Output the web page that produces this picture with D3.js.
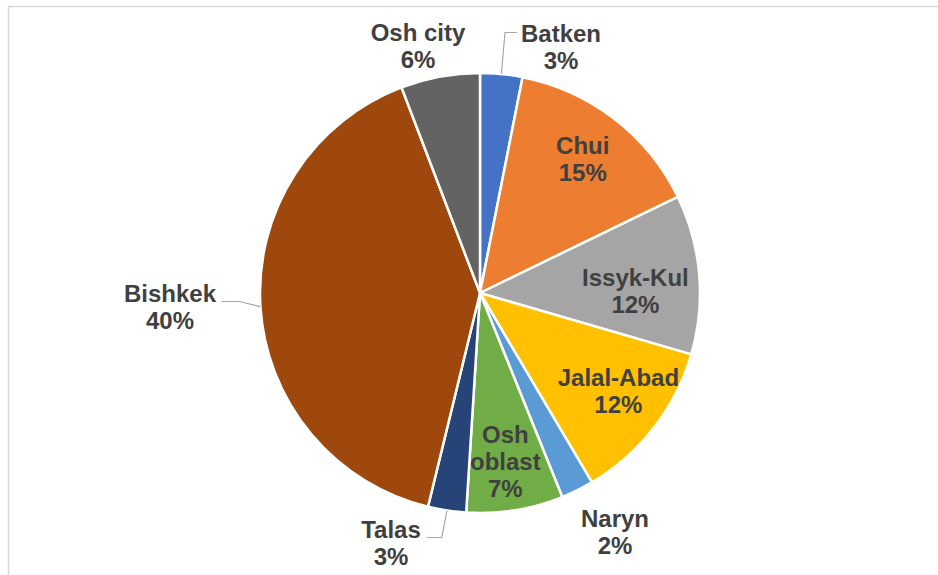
<!DOCTYPE html>
<html>
<head>
<meta charset="utf-8">
<script src="https://cdn.jsdelivr.net/npm/d3@7"></script>
<style>
  body { margin: 0; background: #fff; }
  text { font-family: "Liberation Sans", Arial, sans-serif; font-weight: bold; fill: #404040; }
</style>
</head>
<body>
<div id="mypie"></div>
<script>
// regions and their share of the total (percent)
var regions = ["Batken", "Chui", "Issyk-Kul", "Jalal-Abad", "Naryn", "Osh oblast", "Talas", "Bishkek", "Osh city"];
var shares = [3.1, 14.7, 11.7, 12.0, 2.4, 7.1, 2.8, 40.4, 5.8];
var colours = ["#4472C4", "#ED7D31", "#A5A5A5", "#FFC000", "#5B9BD5", "#70AD47", "#264478", "#9E480E", "#636363"];

// labels that sit outside the pie (offset from pie centre), others go inside
var outside = {
  "Batken":   {dx: 81,  dy: -246, leader: "left"},
  "Osh city": {dx: -62, dy: -247},
  "Naryn":    {dx: 135, dy: 239},
  "Talas":    {dx: -89, dy: 250, leader: "right"},
  "Bishkek":  {dx: -310, dy: 14, leader: "right"}
};
// small hand nudges for inside labels, like dragged excel labels
var nudge = {
  "Chui": [2, -3],
  "Issyk-Kul": [-9, 12],
  "Jalal-Abad": [8, -3],
  "Osh oblast": [-1, 6]
};
var splitLabel = {"Osh oblast": ["Osh", "oblast"]};

var W = 938, H = 575;
var cx = 480, cy = 293, R = 220;
var lineH = 27;

var svg = d3.select("#mypie")
  .append("svg")
  .attr("width", W)
  .attr("height", H);

svg.append("rect")
  .attr("x", 8.5).attr("y", 6.5)
  .attr("width", W + 20).attr("height", H + 20)
  .attr("fill", "none")
  .attr("stroke", "#d9d9d9")
  .attr("stroke-width", 1.5);

var data = regions.map((r, i) => ({name: r, value: shares[i], colour: colours[i]}));

var pie = d3.pie().sort(null).value(d => d.value);
var arcs = pie(data);
var arc = d3.arc().innerRadius(0).outerRadius(R);
var labelArc = d3.arc().innerRadius(R * 0.75).outerRadius(R * 0.75);

var g = svg.append("g").attr("transform", "translate(" + cx + "," + cy + ")");

g.selectAll("path.slice")
  .data(arcs)
  .enter()
  .append("path")
  .attr("class", "slice")
  .attr("d", arc)
  .attr("fill", d => d.data.colour)
  .attr("stroke", "#fff")
  .attr("stroke-width", 2.5)
  .attr("stroke-linejoin", "round");

arcs.forEach(function(d) {
  var lines = (splitLabel[d.data.name] || [d.data.name]).concat([Math.round(d.data.value) + "%"]);
  var o = outside[d.data.name];
  var p;
  if (o) {
    p = [o.dx, o.dy];
  } else {
    p = labelArc.centroid(d);
    var n = nudge[d.data.name] || [0, 0];
    p = [p[0] + n[0], p[1] + n[1]];
  }
  var firstBase = p[1] - (lines.length - 1) * lineH / 2 + 8;
  var t = g.append("text")
    .attr("text-anchor", "middle")
    .style("font-size", "24px");
  lines.forEach(function(l, i) {
    t.append("tspan").attr("x", p[0]).attr("y", firstBase + i * lineH).text(l);
  });
  if (o && o.leader) {
    var bb = t.node().getBBox();
    var mid = (d.startAngle + d.endAngle) / 2;
    var start = [Math.sin(mid) * R, -Math.cos(mid) * R];
    var end, elbow;
    if (o.leader == "left") {
      end = [bb.x - 4, bb.y + 13];
      elbow = [end[0] - 12, end[1]];
    } else if (d.data.name == "Talas") {
      end = [bb.x + bb.width + 6, bb.y + bb.height / 2 - 5];
      elbow = [end[0] + 15, end[1]];
    } else {
      end = [bb.x + bb.width + 5, firstBase];
      elbow = [end[0] + 18, end[1]];
    }
    g.append("path")
      .attr("d", d3.line()([start, elbow, end]))
      .attr("fill", "none")
      .attr("stroke", "#a6a6a6")
      .attr("stroke-width", 1.2);
  }
});
</script>
</body>
</html>
